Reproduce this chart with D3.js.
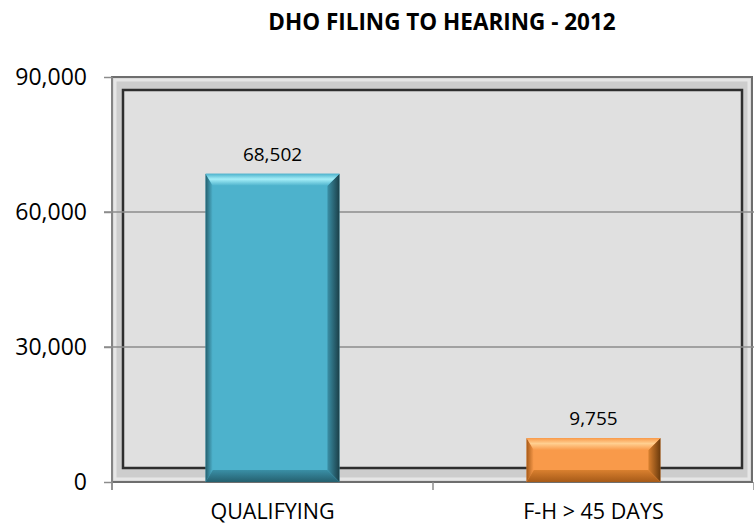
<!DOCTYPE html>
<html>
<head>
<meta charset="utf-8">
<script src="https://cdn.jsdelivr.net/npm/d3@7"></script>
<style>
  body { margin: 0; background: #fff; }
  text { font-family: "Open Sans", sans-serif; fill: #000; }
</style>
</head>
<body>
<svg id="chart" width="754" height="526"></svg>
<script>
const categories = ["QUALIFYING", "F-H > 45 DAYS"];
const values = [68502, 9755];
const yTicks = [0, 30000, 60000, 90000];
const title = "DHO FILING TO HEARING - 2012";

const plotLeft = 112, plotRight = 754, plotTop = 77, plotBottom = 482;
const svg = d3.select("#chart");

const x = d3.scaleBand()
  .domain(categories)
  .range([plotLeft, plotRight])
  .paddingInner(0.583)
  .paddingOuter(0.2915);

const y = d3.scaleLinear()
  .domain([0, 90000])
  .range([plotBottom, plotTop]);

// title
svg.append("text")
  .attr("x", 442).attr("y", 30)
  .attr("text-anchor", "middle")
  .style("font-weight", "bold")
  .style("font-size", "22.5px")
  .text(title);

// wall frame
svg.append("rect")
  .attr("x", plotLeft).attr("y", plotTop)
  .attr("width", 752 - plotLeft).attr("height", plotBottom - plotTop)
  .attr("fill", "#cdcdcd").attr("stroke", "#6e6e6e").attr("stroke-width", 2);
svg.append("rect")
  .attr("x", plotLeft + 3).attr("y", plotTop + 3)
  .attr("width", 752 - plotLeft - 6).attr("height", plotBottom - plotTop - 6)
  .attr("fill", "none").attr("stroke", "#e6e6e6").attr("stroke-width", 3);
svg.append("rect")
  .attr("x", 123).attr("y", 90)
  .attr("width", 742 - 123).attr("height", 468 - 90)
  .attr("fill", "#e0e0e0").attr("stroke", "#2e2e2e").attr("stroke-width", 2.5);

// gridlines
svg.append("g")
  .selectAll("line")
  .data(yTicks.filter(d => d > 0 && d < 90000))
  .join("line")
  .attr("x1", plotLeft - 8).attr("x2", plotRight)
  .attr("y1", d => y(d)).attr("y2", d => y(d))
  .attr("stroke", "#8c8c8c").attr("stroke-width", 1.5);

// axes
const yAxis = d3.axisLeft(y)
  .tickValues(yTicks)
  .tickSize(8)
  .tickPadding(17)
  .tickFormat(d3.format(","));
svg.append("g")
  .attr("transform", `translate(${plotLeft},0)`)
  .call(yAxis)
  .call(g => g.select(".domain").attr("d", `M0,${plotTop}V${plotBottom + 8}`).attr("stroke", "#8c8c8c").attr("stroke-width", 1.5))
  .call(g => g.selectAll(".tick line").attr("stroke", "#8c8c8c").attr("stroke-width", 1.5))
  .call(g => g.selectAll(".tick text").style("font-size", "23px").attr("fill", "#000"));

// category boundaries for x ticks
const bounds = d3.range(categories.length + 1).map(i => plotLeft + i * x.step());
svg.append("g")
  .selectAll("line")
  .data(bounds)
  .join("line")
  .attr("x1", d => d).attr("x2", d => d)
  .attr("y1", plotBottom).attr("y2", plotBottom + 8)
  .attr("stroke", "#8c8c8c").attr("stroke-width", 1.5);

svg.append("g")
  .selectAll("text")
  .data(categories)
  .join("text")
  .attr("x", d => x(d) + x.bandwidth() / 2)
  .attr("y", 519)
  .attr("text-anchor", "middle")
  .style("font-size", "21.5px")
  .text(d => d);

// gradients for bevelled bars
const palettes = [
  { base: "#4db2cc", hi: "#a4eef8", lo: "#25606f", dark: "#1b3f48", side: "#3a8fa6" },
  { base: "#f99a4a", hi: "#ffcf90", lo: "#a65a18", dark: "#6a3a0c", side: "#d9802f" }
];
const defs = svg.append("defs");
palettes.forEach((p, i) => {
  const gt = defs.append("linearGradient").attr("id", "top" + i)
    .attr("x1", 0).attr("y1", 0).attr("x2", 0).attr("y2", 1);
  gt.append("stop").attr("offset", "0%").attr("stop-color", p.base);
  gt.append("stop").attr("offset", "45%").attr("stop-color", p.hi);
  gt.append("stop").attr("offset", "100%").attr("stop-color", p.base);
  const gb = defs.append("linearGradient").attr("id", "bot" + i)
    .attr("x1", 0).attr("y1", 0).attr("x2", 0).attr("y2", 1);
  gb.append("stop").attr("offset", "0%").attr("stop-color", p.side);
  gb.append("stop").attr("offset", "100%").attr("stop-color", p.lo);
  const gr = defs.append("linearGradient").attr("id", "rgt" + i)
    .attr("x1", 0).attr("y1", 0).attr("x2", 1).attr("y2", 0);
  gr.append("stop").attr("offset", "0%").attr("stop-color", p.side);
  gr.append("stop").attr("offset", "100%").attr("stop-color", p.dark);
  const gl = defs.append("linearGradient").attr("id", "lft" + i)
    .attr("x1", 0).attr("y1", 0).attr("x2", 1).attr("y2", 0);
  gl.append("stop").attr("offset", "0%").attr("stop-color", p.lo);
  gl.append("stop").attr("offset", "100%").attr("stop-color", p.base);
});

// bars
const bev = 12;
const bars = svg.append("g")
  .selectAll("g")
  .data(categories.map((c, i) => ({ c, v: values[i], i })))
  .join("g");

bars.each(function (d) {
  const g = d3.select(this);
  const x0 = x(d.c), x1 = x0 + x.bandwidth();
  const y0 = y(d.v), y1 = y(0);
  const b = Math.min(bev, (y1 - y0) / 2.5);
  g.append("rect")
    .attr("x", x0).attr("y", y0)
    .attr("width", x1 - x0).attr("height", y1 - y0)
    .attr("fill", palettes[d.i].base);
  const poly = (pts, fill) => g.append("polygon")
    .attr("points", pts.map(p => p.join(",")).join(" "))
    .attr("fill", fill);
  poly([[x0, y0], [x0 + b * 0.6, y0 + b], [x0 + b * 0.6, y1 - b], [x0, y1]], `url(#lft${d.i})`);
  poly([[x1, y0], [x1 - b, y0 + b], [x1 - b, y1 - b], [x1, y1]], `url(#rgt${d.i})`);
  poly([[x0, y1], [x1, y1], [x1 - b, y1 - b], [x0 + b * 0.6, y1 - b]], `url(#bot${d.i})`);
  poly([[x0, y0], [x1, y0], [x1 - b, y0 + b], [x0 + b * 0.6, y0 + b]], `url(#top${d.i})`);
});

// value labels
svg.append("g")
  .selectAll("text")
  .data(values)
  .join("text")
  .attr("x", (d, i) => x(categories[i]) + x.bandwidth() / 2)
  .attr("y", d => y(d) - 13)
  .attr("text-anchor", "middle")
  .style("font-size", "19px")
  .text(d => d3.format(",")(d));
</script>
</body>
</html>
